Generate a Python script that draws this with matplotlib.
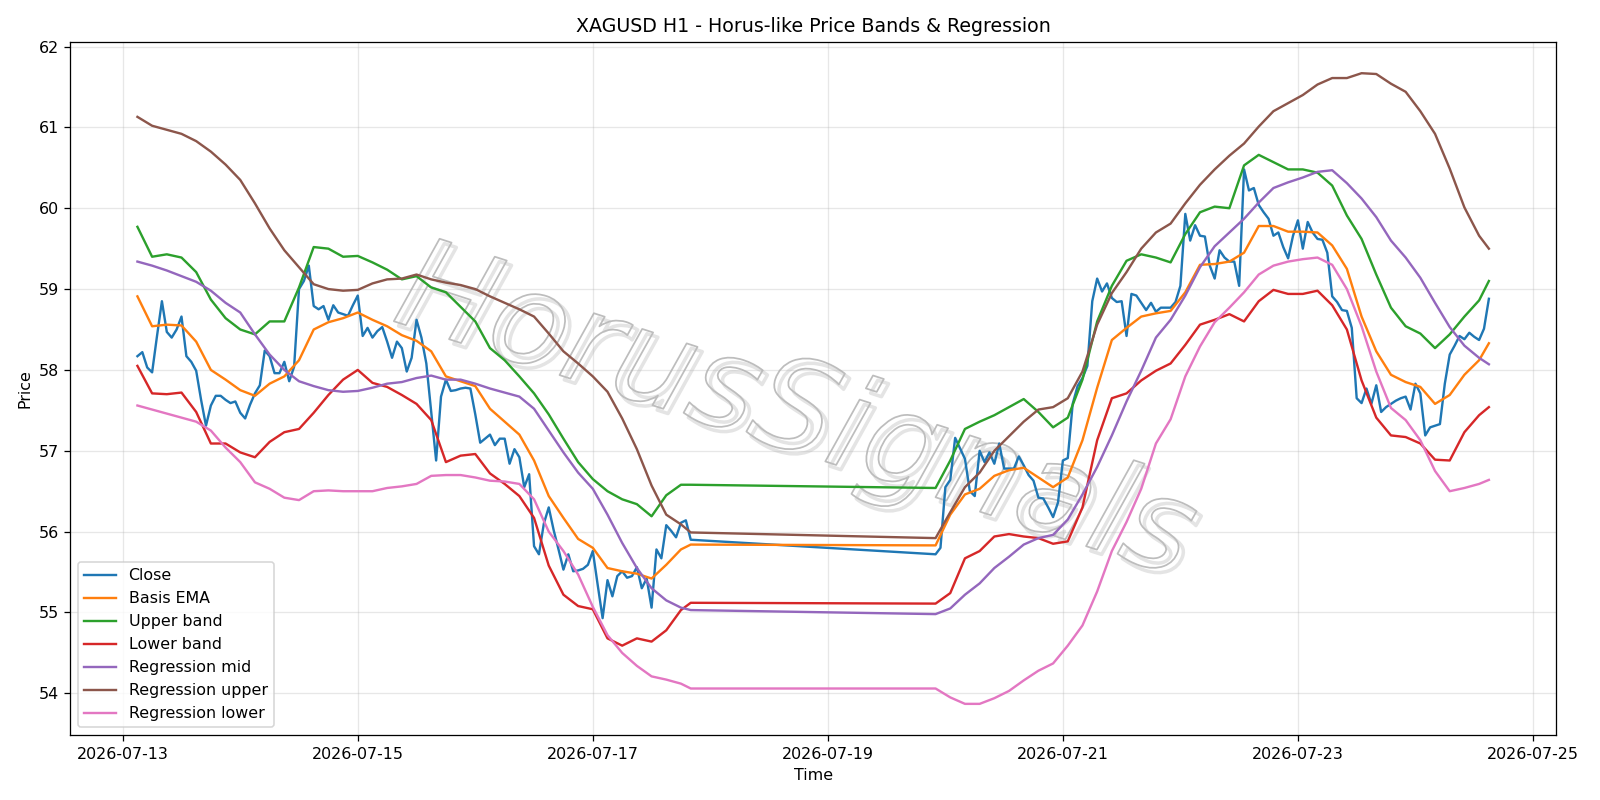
import numpy as np
import pandas as pd
import matplotlib
matplotlib.use("Agg")
import matplotlib.pyplot as plt
import matplotlib.patheffects as pe

# ---------------- data ----------------
week1_start = "2026-07-13 03:00"
week2_start = "2026-07-19 22:00"
bars_per_week = 114

close_w1 = [58.17, 58.22, 58.03, 57.97, 58.42, 58.85, 58.47, 58.40, 58.50, 58.66,
            58.17, 58.10, 57.99, 57.63, 57.31, 57.56, 57.68, 57.68, 57.63, 57.59,
            57.61, 57.47, 57.40, 57.57, 57.71, 57.81, 58.24, 58.17, 57.96, 57.96,
            58.10, 57.86, 58.04, 59.00, 59.10, 59.29, 58.79, 58.75, 58.79, 58.62,
            58.80, 58.71, 58.69, 58.67, 58.80, 58.92, 58.42, 58.52, 58.40, 58.48,
            58.53, 58.35, 58.15, 58.35, 58.27, 57.98, 58.15, 58.62, 58.40, 58.08,
            57.48, 56.88, 57.67, 57.88, 57.74, 57.75, 57.77, 57.78, 57.77, 57.45,
            57.10, 57.15, 57.20, 57.07, 57.15, 57.15, 56.84, 57.02, 56.92, 56.55,
            56.71, 55.82, 55.72, 56.10, 56.30, 56.02, 55.78, 55.53, 55.72, 55.51,
            55.52, 55.54, 55.59, 55.76, 55.34, 54.93, 55.40, 55.20, 55.45, 55.51,
            55.43, 55.45, 55.56, 55.30, 55.42, 55.06, 55.78, 55.67, 56.08, 56.01,
            55.93, 56.11, 56.14, 55.90]
close_w2 = [55.72, 55.80, 56.55, 56.64, 57.16, 57.03, 56.90, 56.50, 56.44, 57.00,
            56.86, 56.98, 56.84, 57.09, 56.78, 56.78, 56.78, 56.93, 56.82, 56.70,
            56.63, 56.42, 56.41, 56.30, 56.18, 56.36, 56.88, 56.91, 57.58, 57.80,
            57.90, 58.05, 58.85, 59.13, 58.97, 59.07, 58.89, 58.84, 58.85, 58.42,
            58.94, 58.92, 58.83, 58.74, 58.83, 58.72, 58.77, 58.77, 58.77, 58.84,
            59.04, 59.93, 59.60, 59.79, 59.66, 59.65, 59.29, 59.13, 59.48, 59.39,
            59.34, 59.34, 59.04, 60.48, 60.22, 60.25, 60.04, 59.95, 59.87, 59.66,
            59.70, 59.52, 59.38, 59.66, 59.85, 59.50, 59.83, 59.70, 59.62, 59.61,
            59.45, 58.91, 58.84, 58.74, 58.73, 58.52, 57.65, 57.59, 57.77, 57.58,
            57.81, 57.48, 57.54, 57.58, 57.62, 57.65, 57.67, 57.51, 57.83, 57.71,
            57.19, 57.29, 57.31, 57.33, 57.83, 58.19, 58.30, 58.42, 58.38, 58.46,
            58.41, 58.37, 58.51, 58.88]

# smooth series are read every 3 bars (plus the last bar of each week)
sample_bars = list(range(0, 112, 3)) + [113]

basis_w1 = [58.91, 58.54, 58.56, 58.55, 58.35, 58.00, 57.88, 57.75, 57.68, 57.83,
            57.92, 58.12, 58.50, 58.59, 58.64, 58.71, 58.62, 58.54, 58.43, 58.36,
            58.23, 57.92, 57.86, 57.80, 57.52, 57.36, 57.20, 56.88, 56.44, 56.17,
            55.91, 55.80, 55.55, 55.51, 55.48, 55.42, 55.59, 55.78, 55.84]
basis_w2 = [55.83, 56.21, 56.46, 56.53, 56.69, 56.76, 56.79, 56.67, 56.55, 56.67,
            57.13, 57.78, 58.37, 58.52, 58.66, 58.70, 58.73, 58.96, 59.30, 59.31,
            59.34, 59.45, 59.78, 59.78, 59.71, 59.71, 59.70, 59.54, 59.25, 58.66,
            58.23, 57.94, 57.85, 57.79, 57.58, 57.69, 57.94, 58.12, 58.33]

upper_w1 = [59.77, 59.40, 59.43, 59.39, 59.21, 58.87, 58.64, 58.50, 58.44, 58.60,
            58.60, 59.02, 59.52, 59.50, 59.40, 59.41, 59.33, 59.24, 59.12, 59.16,
            59.02, 58.96, 58.78, 58.60, 58.27, 58.12, 57.92, 57.71, 57.45, 57.15,
            56.86, 56.65, 56.50, 56.40, 56.34, 56.19, 56.45, 56.58, 56.58]
upper_w2 = [56.54, 56.88, 57.27, 57.36, 57.44, 57.54, 57.64, 57.48, 57.29, 57.41,
            57.88, 58.60, 59.04, 59.35, 59.43, 59.39, 59.33, 59.68, 59.95, 60.02,
            60.00, 60.53, 60.66, 60.57, 60.48, 60.48, 60.44, 60.28, 59.91, 59.62,
            59.18, 58.77, 58.54, 58.45, 58.27, 58.44, 58.66, 58.86, 59.10]

lower_w1 = [58.05, 57.71, 57.70, 57.72, 57.48, 57.09, 57.09, 56.98, 56.92, 57.11,
            57.23, 57.27, 57.47, 57.69, 57.88, 58.00, 57.84, 57.79, 57.69, 57.58,
            57.38, 56.86, 56.94, 56.96, 56.72, 56.59, 56.44, 56.17, 55.58, 55.22,
            55.08, 55.04, 54.68, 54.59, 54.68, 54.64, 54.78, 55.03, 55.12]
lower_w2 = [55.11, 55.24, 55.67, 55.76, 55.94, 55.97, 55.94, 55.92, 55.85, 55.88,
            56.30, 57.13, 57.65, 57.71, 57.87, 57.99, 58.08, 58.31, 58.56, 58.62,
            58.69, 58.60, 58.85, 58.99, 58.94, 58.94, 58.98, 58.80, 58.50, 57.87,
            57.41, 57.19, 57.17, 57.09, 56.89, 56.88, 57.23, 57.44, 57.54]

reg_mid_w1 = [59.34, 59.29, 59.23, 59.16, 59.09, 58.98, 58.83, 58.71, 58.44, 58.19,
              58.00, 57.86, 57.80, 57.75, 57.73, 57.74, 57.78, 57.83, 57.85, 57.90,
              57.93, 57.88, 57.88, 57.83, 57.77, 57.72, 57.67, 57.52, 57.25, 56.98,
              56.73, 56.53, 56.21, 55.86, 55.55, 55.30, 55.15, 55.06, 55.03]
reg_mid_w2 = [54.98, 55.05, 55.22, 55.36, 55.55, 55.69, 55.84, 55.92, 55.96, 56.15,
              56.46, 56.80, 57.19, 57.61, 57.99, 58.40, 58.62, 58.92, 59.27, 59.53,
              59.70, 59.87, 60.07, 60.25, 60.32, 60.38, 60.45, 60.47, 60.31, 60.12,
              59.89, 59.60, 59.39, 59.14, 58.83, 58.53, 58.30, 58.15, 58.07]

reg_up_w1 = [61.13, 61.02, 60.97, 60.92, 60.83, 60.70, 60.54, 60.35, 60.06, 59.75,
             59.48, 59.27, 59.06, 59.00, 58.98, 58.99, 59.07, 59.12, 59.13, 59.18,
             59.12, 59.08, 59.05, 59.00, 58.91, 58.83, 58.75, 58.66, 58.45, 58.23,
             58.08, 57.92, 57.73, 57.40, 57.02, 56.57, 56.21, 56.09, 55.99]
reg_up_w2 = [55.92, 56.24, 56.55, 56.73, 57.00, 57.18, 57.36, 57.51, 57.54, 57.65,
             57.98, 58.56, 58.95, 59.21, 59.50, 59.70, 59.81, 60.06, 60.29, 60.48,
             60.65, 60.80, 61.01, 61.20, 61.30, 61.40, 61.53, 61.61, 61.61, 61.67,
             61.66, 61.54, 61.44, 61.20, 60.92, 60.49, 60.01, 59.66, 59.50]

reg_lo_w1 = [57.56, 57.51, 57.46, 57.41, 57.36, 57.25, 57.04, 56.86, 56.61, 56.53,
             56.42, 56.39, 56.50, 56.51, 56.50, 56.50, 56.50, 56.54, 56.56, 56.59,
             56.69, 56.70, 56.70, 56.67, 56.63, 56.62, 56.59, 56.40, 56.00, 55.76,
             55.47, 55.07, 54.72, 54.50, 54.34, 54.21, 54.17, 54.12, 54.06]
reg_lo_w2 = [54.06, 53.95, 53.87, 53.87, 53.94, 54.03, 54.16, 54.28, 54.37, 54.59,
             54.84, 55.26, 55.76, 56.12, 56.53, 57.09, 57.39, 57.92, 58.29, 58.59,
             58.77, 58.96, 59.18, 59.29, 59.34, 59.37, 59.39, 59.30, 59.00, 58.54,
             57.98, 57.53, 57.38, 57.13, 56.75, 56.50, 56.54, 56.59, 56.64]

title = "XAGUSD H1 - Horus-like Price Bands & Regression"
watermark = "HorusSignals"

# ---------------- time axes ----------------
t_w1 = pd.date_range(week1_start, periods=bars_per_week, freq="h")
t_w2 = pd.date_range(week2_start, periods=bars_per_week, freq="h")
t_close = t_w1.append(t_w2)
t_smooth = t_w1[sample_bars].append(t_w2[sample_bars])

close = close_w1 + close_w2
series = [
    ("Basis EMA", basis_w1 + basis_w2, "tab:orange"),
    ("Upper band", upper_w1 + upper_w2, "tab:green"),
    ("Lower band", lower_w1 + lower_w2, "tab:red"),
    ("Regression mid", reg_mid_w1 + reg_mid_w2, "tab:purple"),
    ("Regression upper", reg_up_w1 + reg_up_w2, "tab:brown"),
    ("Regression lower", reg_lo_w1 + reg_lo_w2, "tab:pink"),
]

# ---------------- plot ----------------
DPI = 1600 / 14
fig, ax = plt.subplots(figsize=(14, 7), dpi=DPI)
ax.plot(t_close, close, color="tab:blue", lw=1.5, label="Close", zorder=3)
for name, vals, col in series:
    ax.plot(t_smooth, vals, color=col, lw=1.5, label=name, zorder=3)

ax.set_title(title, fontsize=12)
ax.set_xlabel("Time")
ax.set_ylabel("Price")
ax.grid(True, alpha=0.3)
ax.legend(loc="lower left")

ax.text(0.488, 0.462, watermark, transform=ax.transAxes, fontsize=80,
        color="none", style="italic", ha="center", va="center",
        rotation=-18, zorder=1,
        path_effects=[pe.Stroke(offset=(3, -3), linewidth=2.2, foreground="#e4e4e4"),
                      pe.Stroke(linewidth=1.1, foreground="#bdbdbd")])

fig.tight_layout()
fig.savefig("out.png", dpi=DPI)
